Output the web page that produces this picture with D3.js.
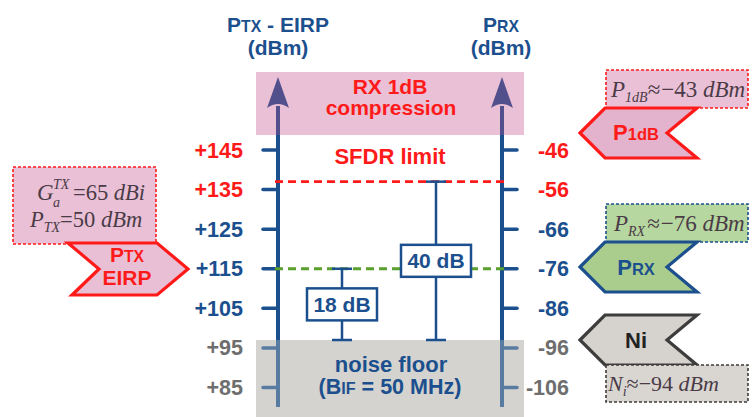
<!DOCTYPE html>
<html>
<head>
<meta charset="utf-8">
<script src="https://cdn.jsdelivr.net/npm/d3@7"></script>
<style>
  body { margin: 0; background: #fff; }
  svg { display: block; }
</style>
</head>
<body>
<svg width="752" height="417"></svg>
<script>
// levels in dBm on the TX-EIRP scale (left); right scale = left - 191
var leftTicks = [145, 135, 125, 115, 105, 95, 85];
var rightTicks = [-46, -56, -66, -76, -86, -96, -106];
var tickGroup = ["red", "red", "blue", "blue", "blue", "gray", "gray"];
var sfdrLevel = 137;
var prxLevel = 115;
var noiseLevel = 97;
var spans = [
  {label: "18 dB", top: 115, bottom: 97},
  {label: "40 dB", top: 137, bottom: 97}
];

var RED = "#ff1a1a", BLUE = "#1b4f8d", GRAY = "#6e6e6e", PURPLE = "#52508c";
var colors = {red: RED, blue: BLUE, gray: GRAY};
var svg = d3.select("svg");
var y = d3.scaleLinear().domain([145, 85]).range([150, 387.5]);
var xL = 278, xR = 502;
var sans = "'Liberation Sans', Arial, sans-serif";
var serif = "'Liberation Serif', 'Times New Roman', serif";

// background bands
svg.append("rect").attr("x", 256).attr("y", 72).attr("width", 268).attr("height", 63).attr("fill", "#e9c0d5");
svg.append("rect").attr("x", 256).attr("y", y(noiseLevel)).attr("width", 268).attr("height", 417 - y(noiseLevel)).attr("fill", "#d6d3cf");

// axes
[xL, xR].forEach(function (x) {
  svg.append("line").attr("x1", x).attr("x2", x).attr("y1", 106).attr("y2", 135)
    .attr("stroke", PURPLE).attr("stroke-width", 4);
  svg.append("line").attr("x1", x).attr("x2", x).attr("y1", 135).attr("y2", 407)
    .attr("stroke", BLUE).attr("stroke-width", 4);
  svg.append("path")
    .attr("d", "M" + x + ",77 L" + (x + 11) + ",108 Q" + x + ",100 " + (x - 11) + ",108 Z")
    .attr("fill", PURPLE);
});
svg.selectAll(".tl").data(leftTicks).enter().append("line")
  .attr("x1", xL - 15).attr("x2", xL).attr("y1", d => y(d)).attr("y2", d => y(d))
  .attr("stroke", BLUE).attr("stroke-width", 3.5).attr("stroke-linecap", "round");
svg.selectAll(".tr").data(leftTicks).enter().append("line")
  .attr("x1", xR).attr("x2", xR + 15).attr("y1", d => y(d)).attr("y2", d => y(d))
  .attr("stroke", BLUE).attr("stroke-width", 3.5).attr("stroke-linecap", "round");

// grey overlay dims the axis inside the noise band
svg.append("rect").attr("x", 256).attr("y", y(noiseLevel)).attr("width", 268).attr("height", 417 - y(noiseLevel))
  .attr("fill", "#d6d3cf").attr("opacity", 0.33);

// tick labels
svg.selectAll(".ll").data(leftTicks).enter().append("text")
  .attr("x", 243).attr("y", d => y(d) + 7.5).attr("text-anchor", "end")
  .attr("font-family", sans).attr("font-weight", "bold").attr("font-size", 21.5)
  .attr("fill", (d, i) => colors[tickGroup[i]]).text(d => "+" + d);
svg.selectAll(".rl").data(rightTicks).enter().append("text")
  .attr("x", 569).attr("y", (d, i) => y(leftTicks[i]) + 7.5).attr("text-anchor", "end")
  .attr("font-family", sans).attr("font-weight", "bold").attr("font-size", 21.5)
  .attr("fill", (d, i) => colors[tickGroup[i]]).text(d => d);

// small caps helper
function smallCaps(x, yy, parts, color, size) {
  var t = svg.append("text").attr("x", x).attr("y", yy).attr("text-anchor", "middle")
    .attr("font-family", sans).attr("font-weight", "bold").attr("fill", color);
  parts.forEach(function (p) {
    t.append("tspan").attr("font-size", p[1] ? size * 0.75 : size).text(p[0]);
  });
  return t;
}
smallCaps(278, 32, [["P", 0], ["TX", 1], [" - EIRP", 0]], BLUE, 21);
smallCaps(278, 55, [["(dBm)", 0]], BLUE, 21);
smallCaps(501, 32, [["P", 0], ["RX", 1]], BLUE, 21);
smallCaps(501, 55, [["(dBm)", 0]], BLUE, 21);

// band labels
function label(x, yy, txt, color, size) {
  svg.append("text").attr("x", x).attr("y", yy).attr("text-anchor", "middle")
    .attr("font-family", sans).attr("font-weight", "bold").attr("font-size", size).attr("fill", color).text(txt);
}
label(390, 94, "RX 1dB", RED, 21);
label(391, 115, "compression", RED, 21);
label(390, 164, "SFDR limit", RED, 22);
label(391, 372, "noise floor", BLUE, 22);
smallCaps(390, 394, [["(B", 0], ["IF", 1], [" = 50 MHz)", 0]], BLUE, 21.5);

// level lines
svg.append("line").attr("x1", 275).attr("x2", 506).attr("y1", y(sfdrLevel)).attr("y2", y(sfdrLevel))
  .attr("stroke", RED).attr("stroke-width", 2.8).attr("stroke-dasharray", "8,5");
svg.append("line").attr("x1", 275).attr("x2", 506).attr("y1", y(prxLevel)).attr("y2", y(prxLevel))
  .attr("stroke", "#5aa02c").attr("stroke-width", 2.8).attr("stroke-dasharray", "8,5");

// dynamic range spans
var spanX = d3.scalePoint().domain(spans.map(d => d.label)).range([342, 436]);
spans.forEach(function (s) {
  var cx = spanX(s.label), yt = y(s.top), yb = y(s.bottom), ym = (yt + yb) / 2;
  var g = svg.append("g").attr("stroke", BLUE).attr("stroke-width", 2.5);
  g.append("line").attr("x1", cx).attr("x2", cx).attr("y1", yt).attr("y2", yb);
  g.append("line").attr("x1", cx - 10).attr("x2", cx + 10).attr("y1", yt).attr("y2", yt);
  g.append("line").attr("x1", cx - 10).attr("x2", cx + 10).attr("y1", yb).attr("y2", yb);
  g.append("rect").attr("x", cx - 35).attr("y", ym - 16).attr("width", 70).attr("height", 32).attr("fill", "#fff");
  svg.append("text").attr("x", cx).attr("y", ym + 7.5).attr("text-anchor", "middle")
    .attr("font-family", sans).attr("font-weight", "bold").attr("font-size", 21).attr("fill", BLUE).text(s.label);
});

// side annotations
function noteBox(x, yy, w, h, fill, stroke) {
  svg.append("rect").attr("x", x).attr("y", yy).attr("width", w).attr("height", h)
    .attr("fill", fill).attr("stroke", stroke).attr("stroke-width", 1.6).attr("stroke-dasharray", "3,2");
}
function chevron(points, fill, stroke) {
  svg.append("path").attr("d", d3.line()(points) + "Z")
    .attr("fill", fill).attr("stroke", stroke).attr("stroke-width", 3.2).attr("stroke-linejoin", "miter");
}
function leftChevron(yc, fill, stroke) {
  chevron([[580, yc], [605, yc - 25], [697, yc - 25], [667, yc], [697, yc + 25], [605, yc + 25]], fill, stroke);
}
var MATH = "#4a3b47";
function mathText(x, yy, parts, size) {
  var t = svg.append("text").attr("x", x).attr("y", yy).attr("font-family", serif)
    .attr("font-size", size || 23).attr("fill", MATH);
  parts.forEach(function (p) {
    var s = t.append("tspan").text(p.t);
    if (p.i) s.attr("font-style", "italic");
    if (p.sub) s.attr("font-size", 14).attr("dy", 5);
    if (p.up) s.attr("dy", -5);
    if (p.dx) s.attr("dx", p.dx);
  });
  return t;
}

// TX side
noteBox(13, 167, 143, 77, "#e9c0d5", RED);
mathText(37, 200, [{t: "G", i: 1}]);
svg.append("text").attr("x", 53).attr("y", 189).attr("font-family", serif).attr("font-style", "italic")
  .attr("font-size", 14).attr("fill", MATH).text("TX");
svg.append("text").attr("x", 53).attr("y", 207).attr("font-family", serif).attr("font-style", "italic")
  .attr("font-size", 14).attr("fill", MATH).text("a");
mathText(73, 200, [{t: "=65 "}, {t: "dBi", i: 1}], 22.5);
mathText(30, 227, [{t: "P", i: 1}, {t: "TX", i: 1, sub: 1}, {t: "=50", up: 1}, {t: " dBm", i: 1}], 22.5);
chevron([[68, 243], [157, 243], [188, 269], [157, 295], [72, 295], [99, 269]], "#e9bfd5", RED);
smallCaps(127, 262, [["P", 0], ["TX", 1]], RED, 21);
smallCaps(127, 285, [["EIRP", 0]], RED, 21);

// RX side
noteBox(606, 70, 142, 38, "#e9c0d5", RED);
mathText(611, 97, [{t: "P", i: 1}, {t: "1dB", i: 1, sub: 1}, {t: "≈", up: 1}, {t: "−43", dx: 1}, {t: " dBm", i: 1}]);
leftChevron(133, "#e3b2cc", RED);
smallCaps(636, 140, [["P", 0], ["1dB", 1]], RED, 22);

noteBox(606, 204, 142, 38, "#b7d7a0", BLUE);
mathText(614, 231, [{t: "P", i: 1}, {t: "RX", i: 1, sub: 1}, {t: "≈", up: 1, dx: 2}, {t: "−76", dx: 1}, {t: " dBm", i: 1}]);
leftChevron(267, "#aacd8e", BLUE);
smallCaps(636, 275, [["P", 0], ["RX", 1]], BLUE, 22);

leftChevron(340, "#d6d3cf", "#3d3d3d");
smallCaps(636, 348, [["Ni", 0]], "#222", 22);
noteBox(606, 365, 142, 37, "#d9d6d2", "#3d3d3d");
mathText(608, 391, [{t: "N", i: 1}, {t: "i", i: 1, sub: 1}, {t: "≈", up: 1}, {t: "−94"}, {t: " dBm", i: 1}], 22);
</script>
</body>
</html>
